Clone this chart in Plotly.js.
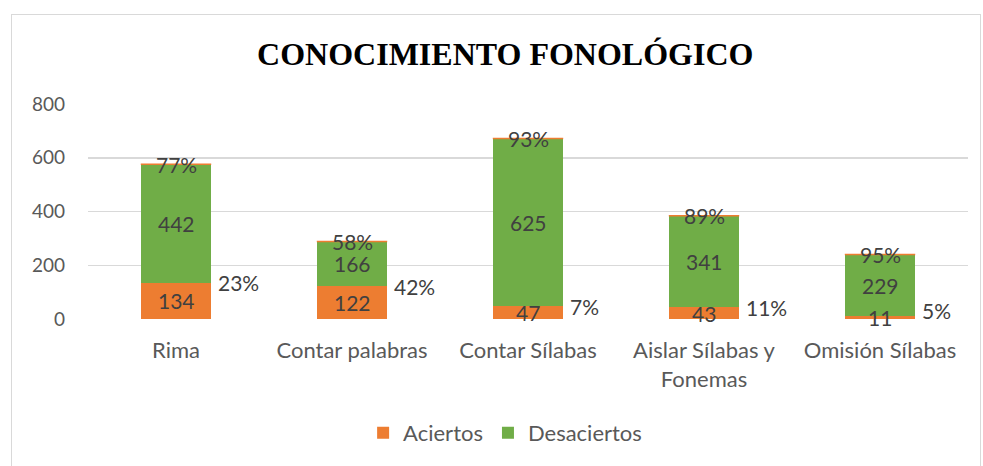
<!DOCTYPE html>
<html><head><meta charset="utf-8">
<script src="https://cdn.plot.ly/plotly-3.0.1.min.js"></script>
<style>
html,body{margin:0;padding:0;background:#fff;}
#frame{position:absolute;left:11px;top:14px;width:970px;height:470px;border:1px solid #d9d9d9;box-sizing:border-box;}
#chart{position:absolute;left:0;top:0;width:983px;height:466px;}
</style></head>
<body>
<div id="frame"></div>
<div id="chart"></div>
<script>
const categories = ["Rima", "Contar palabras", "Contar Sílabas", "Aislar Sílabas y<br>Fonemas", "Omisión Sílabas"];
const aciertos = [134, 122, 47, 43, 11];
const desaciertos = [442, 166, 625, 341, 229];
const pctAciertos = ["23%", "42%", "7%", "11%", "5%"];
const pctDesaciertos = ["77%", "58%", "93%", "89%", "95%"];
const tickVals = [0, 200, 400, 600, 800];

const FONT = "Lato, 'Open Sans', sans-serif";
const LBL = {family: FONT, size: 21, color: "#404040"};

const traces = [
  {type: "bar", name: "Aciertos", x: categories, y: aciertos, marker: {color: "#ED7D31"}, hoverinfo: "none"},
  {type: "bar", name: "Desaciertos", x: categories, y: desaciertos, marker: {color: "#70AD47"}, hoverinfo: "none"}
];

const annotations = [];
categories.forEach((c, i) => {
  const a = aciertos[i], d = desaciertos[i];
  annotations.push({x: c, y: a / 2, text: String(a), showarrow: false, yanchor: "middle", font: LBL});
  annotations.push({x: c, y: a + d / 2, text: String(d), showarrow: false, yanchor: "middle", font: LBL});
  annotations.push({x: c, y: a + d, text: pctDesaciertos[i], showarrow: false, yanchor: "middle", font: LBL});
  annotations.push({x: c, y: Math.max(a, 30), text: pctAciertos[i], showarrow: false, xanchor: "left", xshift: 40, yanchor: "middle", font: LBL});
});

const shapes = categories.map((c, i) => ({
  type: "line", xref: "x", yref: "y", x0: i - 0.2, x1: i + 0.2,
  y0: aciertos[i] + desaciertos[i], y1: aciertos[i] + desaciertos[i],
  line: {color: "#ED7D31", width: 1.5}
}));

const layout = {
  width: 983, height: 466,
  margin: {l: 88, r: 15, t: 104, b: 145},
  paper_bgcolor: "rgba(0,0,0,0)", plot_bgcolor: "rgba(0,0,0,0)",
  barmode: "stack", bargap: 0.6,
  title: {text: "<b>CONOCIMIENTO FONOLÓGICO</b>", font: {family: "'Liberation Serif', 'Times New Roman', serif", size: 32, color: "#000"}, x: 0.514, xanchor: "center", y: 0.884, yanchor: "middle"},
  xaxis: {type: "category", tickfont: {family: FONT, size: 22, color: "#595959"}, showline: false, ticks: "", showgrid: false, automargin: false, ticklabelstandoff: 16},
  yaxis: {range: [0, 800], tickvals: tickVals, tickfont: {family: FONT, size: 19, color: "#595959"}, gridcolor: "#d9d9d9", gridwidth: 1.5, zeroline: false, ticks: "", ticklabelstandoff: 22, automargin: false},
  legend: {orientation: "h", traceorder: "normal", x: 0.474, xanchor: "center", y: -0.53, yanchor: "middle", font: {family: FONT, size: 22, color: "#595959"}, itemwidth: 30, entrywidthmode: "pixels"},
  annotations: annotations,
  shapes: shapes,
  showlegend: true
};

Plotly.newPlot("chart", traces, layout, {displayModeBar: false, staticPlot: true});
</script>
</body></html>
